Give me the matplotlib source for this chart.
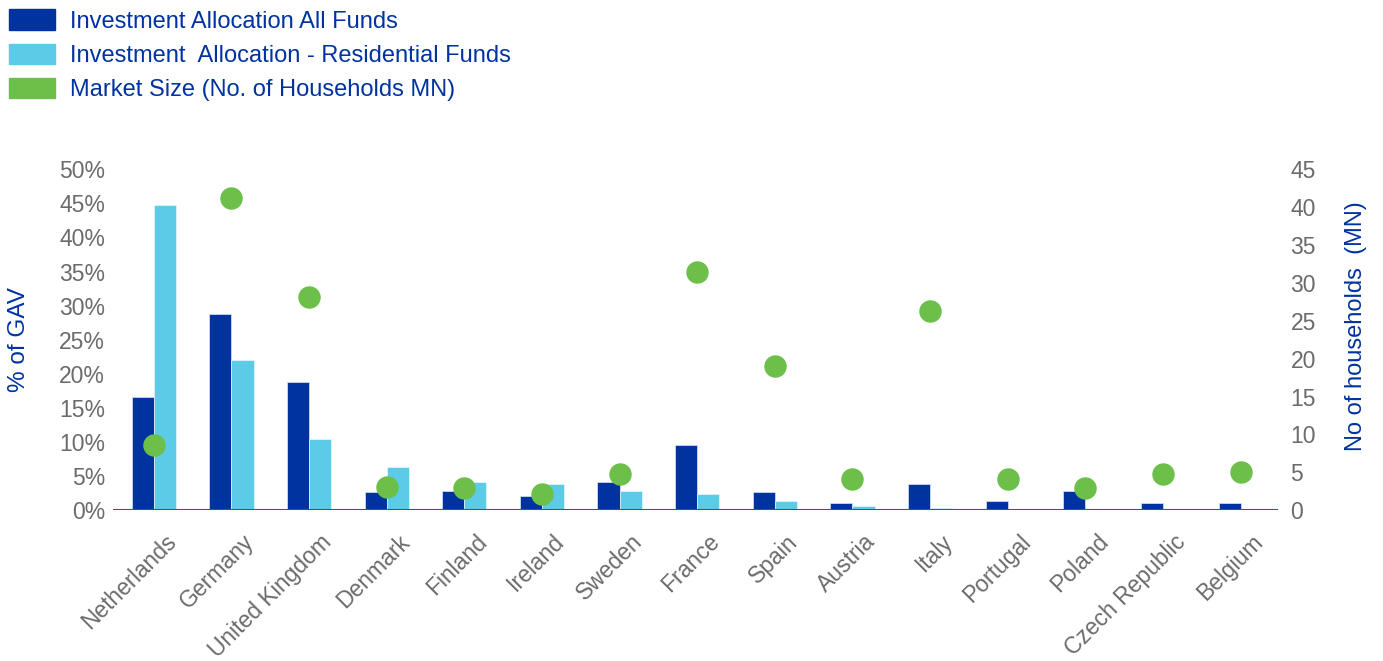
import numpy as np
import matplotlib
matplotlib.use("Agg")
import matplotlib.pyplot as plt
import matplotlib.transforms as mtransforms
from matplotlib.patches import Patch

plt.rcParams['font.family'] = ['Liberation Sans', 'DejaVu Sans']

countries = ['Netherlands', 'Germany', 'United Kingdom', 'Denmark', 'Finland',
             'Ireland', 'Sweden', 'France', 'Spain', 'Austria', 'Italy',
             'Portugal', 'Poland', 'Czech Republic', 'Belgium']
all_funds = [16.6, 28.8, 18.8, 2.7, 2.9, 2.1, 4.1, 9.5, 2.7, 1.1, 3.8, 1.3, 2.9, 1.1, 1.1]
residential = [44.7, 22.1, 10.4, 6.3, 4.1, 3.8, 2.9, 2.4, 1.3, 0.7, 0.4, 0.1, 0.1, 0.1, 0.0]
households = [8.6, 41.2, 28.2, 3.1, 2.9, 2.2, 4.8, 31.4, 19.1, 4.1, 26.3, 4.1, 2.9, 4.8, 5.1]

dark_blue = '#0033a0'
light_blue = '#5bcbe8'
green = '#6cc04a'
grey = '#6b6b6b'

fig = plt.figure(figsize=(13.83, 6.61), dpi=100)
ax = fig.add_axes([0.082, 0.228, 0.842, 0.516])
ax2 = ax.twinx()

x = np.arange(len(countries))
w = 0.285
ax.bar(x - w / 2, all_funds, w, color=dark_blue, edgecolor='#dfe6f5', linewidth=0.5, zorder=2)
ax.bar(x + w / 2, residential, w, color=light_blue, edgecolor='#e6f7fc', linewidth=0.5, zorder=2)
ax2.scatter(x, households, s=230, color=green, zorder=3)

ax.set_xlim(-0.52, 14.48)
ax.set_ylim(0, 50)
ax2.set_ylim(0, 45)
ax.set_yticks(np.arange(0, 51, 5))
ax.set_yticklabels([f'{v}%' for v in range(0, 51, 5)])
ax2.set_yticks(np.arange(0, 46, 5))

for a in (ax, ax2):
    for s in ['top', 'left', 'right', 'bottom']:
        a.spines[s].set_visible(False)
    a.tick_params(length=0, labelsize=16.5, labelcolor=grey)
ax.axhline(0, color='#2d52b2', linewidth=2.2, zorder=4)

ax.set_xticks(x)
ax.set_xticklabels(countries, rotation=45, ha='right', rotation_mode='anchor')
offset = mtransforms.ScaledTranslation(0.11, -0.15, fig.dpi_scale_trans)
for lbl in ax.get_xticklabels():
    lbl.set_transform(lbl.get_transform() + offset)

ax.tick_params(axis='y', pad=6)
ax2.tick_params(axis='y', pad=9)
ax.set_ylabel('% of GAV', color=dark_blue, fontsize=17.5, labelpad=21)
ax2.set_ylabel('No of households  (MN)', color=dark_blue, fontsize=17)
ax2.yaxis.set_label_coords(1.058, 0.54)

handles = [Patch(color=dark_blue), Patch(color=light_blue), Patch(color=green)]
labels = ['Investment Allocation All Funds',
          'Investment  Allocation - Residential Funds',
          'Market Size (No. of Households MN)']
fig.legend(handles, labels, loc='upper left', bbox_to_anchor=(0.0, 1.0),
           frameon=False, fontsize=17, labelcolor=dark_blue,
           handlelength=1.95, handleheight=0.93, handletextpad=0.6,
           labelspacing=0.47, borderaxespad=0.0)

fig.savefig('out.png', dpi=100)
